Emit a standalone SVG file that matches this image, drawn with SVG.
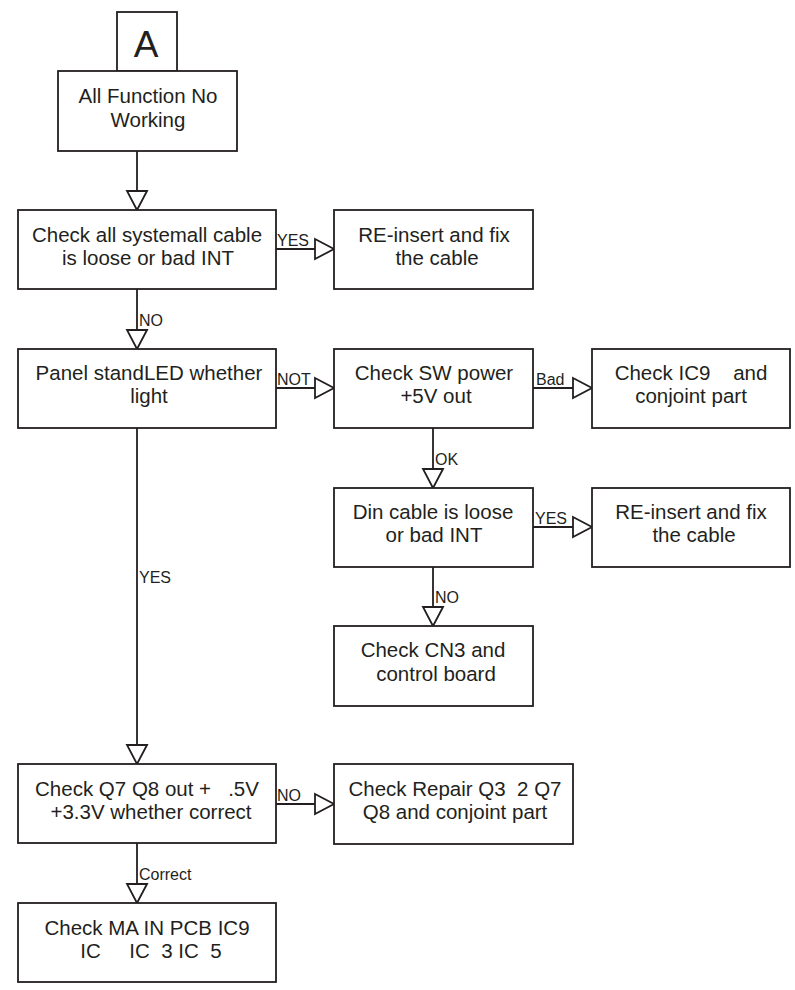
<svg xmlns="http://www.w3.org/2000/svg" width="795" height="990" viewBox="0 0 795 990">
<style>
.box{fill:#fff;stroke:#231f20;stroke-width:1.8}
.t{font-family:"Liberation Sans",Arial,sans-serif;font-size:20.5px;fill:#231f20;text-anchor:middle;white-space:pre}
.lbl{font-family:"Liberation Sans",Arial,sans-serif;font-size:16px;fill:#231f20;white-space:pre}
.big{font-family:"Liberation Sans",Arial,sans-serif;font-size:37px;fill:#231f20;text-anchor:middle}
.c{fill:none;stroke:#231f20;stroke-width:1.8;marker-end:url(#tri)}
</style>
<defs>
<marker id="tri" markerUnits="userSpaceOnUse" markerWidth="24" markerHeight="26" viewBox="-2 -3 24 26" refX="19" refY="10" orient="auto" overflow="visible">
<path d="M0,0 L19,10 L0,20 Z" fill="#fff" stroke="#231f20" stroke-width="1.8"/>
</marker>
</defs>
<rect width="795" height="990" fill="#fff"/>

<g id="connectors">
<path class="c" d="M137,151 V210"/>
<path class="c" d="M276,249 H334"/>
<path class="c" d="M137,289 V349"/>
<path class="c" d="M276,388 H334"/>
<path class="c" d="M533,388 H592"/>
<path class="c" d="M433,428 V488"/>
<path class="c" d="M533,527 H592"/>
<path class="c" d="M433,567 V626"/>
<path class="c" d="M137,428 V764"/>
<path class="c" d="M276,804 H334"/>
<path class="c" d="M137,843 V903"/>
<text class="lbl" x="277" y="246">YES</text>
<text class="lbl" x="139" y="326">NO</text>
<text class="lbl" x="277" y="385">NOT</text>
<text class="lbl" x="536" y="385">Bad</text>
<text class="lbl" x="435" y="465">OK</text>
<text class="lbl" x="535" y="524">YES</text>
<text class="lbl" x="435" y="603">NO</text>
<text class="lbl" x="139" y="583">YES</text>
<text class="lbl" x="277" y="801">NO</text>
<text class="lbl" x="139" y="880">Correct</text>
</g>

<g id="nodeA">
<rect class="box" x="117" y="12" width="60" height="59"/>
<text class="big" x="146" y="57">A</text>
</g>

<g id="allFunction">
<rect class="box" x="58" y="71" width="179" height="80"/>
<text class="t" x="148" y="103">All Function No</text>
<text class="t" x="148" y="127">Working</text>
</g>

<g id="checkCable">
<rect class="box" x="18" y="210" width="258" height="79"/>
<text class="t" x="147" y="242">Check all systemall cable</text>
<text class="t" x="148" y="265">is loose or bad INT</text>
</g>

<g id="reinsert1">
<rect class="box" x="334" y="210" width="199" height="79"/>
<text class="t" x="434" y="242">RE-insert and fix</text>
<text class="t" x="437" y="265">the cable</text>
</g>

<g id="panelLED">
<rect class="box" x="18" y="349" width="258" height="79"/>
<text class="t" x="149" y="380">Panel standLED whether</text>
<text class="t" x="149" y="403">light</text>
</g>

<g id="checkSW">
<rect class="box" x="334" y="349" width="199" height="79"/>
<text class="t" x="434" y="380">Check SW power</text>
<text class="t" x="436" y="403">+5V out</text>
</g>

<g id="checkIC9">
<rect class="box" x="592" y="349" width="198" height="79"/>
<text class="t" x="691" y="380">Check IC9    and</text>
<text class="t" x="691" y="403">conjoint part</text>
</g>

<g id="dinCable">
<rect class="box" x="334" y="488" width="199" height="79"/>
<text class="t" x="433" y="519">Din cable is loose</text>
<text class="t" x="434" y="542">or bad INT</text>
</g>

<g id="reinsert2">
<rect class="box" x="592" y="488" width="198" height="79"/>
<text class="t" x="691" y="519">RE-insert and fix</text>
<text class="t" x="694" y="542">the cable</text>
</g>

<g id="checkCN3">
<rect class="box" x="334" y="626" width="199" height="80"/>
<text class="t" x="433" y="657">Check CN3 and</text>
<text class="t" x="436" y="681">control board</text>
</g>

<g id="checkQ7">
<rect class="box" x="18" y="764" width="258" height="79"/>
<text class="t" x="147" y="796">Check Q7 Q8 out +   .5V</text>
<text class="t" x="151" y="819">+3.3V whether correct</text>
</g>

<g id="repair">
<rect class="box" x="334" y="764" width="239" height="80"/>
<text class="t" x="455" y="796">Check Repair Q3  2 Q7</text>
<text class="t" x="455" y="819">Q8 and conjoint part</text>
</g>

<g id="mainPCB">
<rect class="box" x="18" y="903" width="258" height="79"/>
<text class="t" x="147" y="935">Check MA IN PCB IC9</text>
<text class="t" x="151" y="958">IC     IC  3 IC  5</text>
</g>
</svg>
